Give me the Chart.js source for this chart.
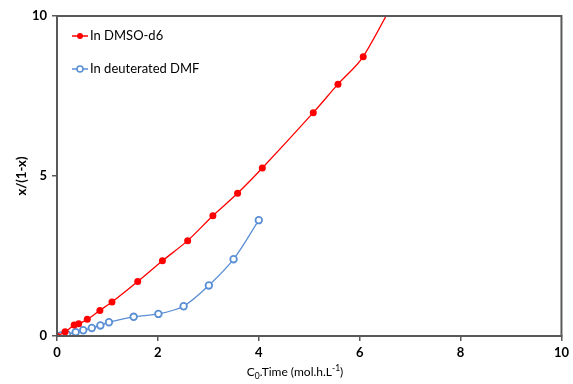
<!DOCTYPE html>
<html>
<head>
<meta charset="utf-8">
<script src="https://cdn.jsdelivr.net/npm/chart.js@4/dist/chart.umd.min.js"></script>
<style>
  html, body { margin: 0; padding: 0; background: #fff; }
  #wrap { width: 573px; height: 384px; }
</style>
</head>
<body>
<div id="wrap"><canvas id="kineticsChart" width="573" height="384"></canvas></div>
<script>
// x = C0.Time (mol.h.L-1), y = x/(1-x)
const dmsoX = [0, 0.16, 0.34, 0.43, 0.60, 0.85, 1.09, 1.60, 2.09, 2.59, 3.09, 3.58, 4.07, 5.08, 5.57, 6.07, 7.07];
const dmsoY = [0, 0.13, 0.34, 0.38, 0.52, 0.80, 1.06, 1.70, 2.35, 2.98, 3.76, 4.46, 5.25, 6.98, 7.87, 8.73, 11.65];
const dmfX = [0, 0.08, 0.20, 0.37, 0.52, 0.69, 0.86, 1.03, 1.52, 2.01, 2.51, 3.01, 3.50, 4.00];
const dmfY = [0, 0.02, 0.05, 0.12, 0.18, 0.25, 0.33, 0.43, 0.60, 0.69, 0.93, 1.58, 2.40, 3.62];
const seriesNames = ['In DMSO-d6', 'In deuterated DMF'];
const xTicks = [0, 2, 4, 6, 8, 10];
const yTicks = [0, 5, 10];
// x title pieces: [text, 'normal' | 'sub' | 'sup']
const xTitleParts = [['C', 'normal'], ['0', 'sub'], ['.Time (mol.h.L', 'normal'], ['-1', 'sup'], [')', 'normal']];

const red = '#FF0000';
const blue = '#5B8FD5';
const axisGray = '#595959';
const fontFamily = 'Lato, "Open Sans", sans-serif';

function toPoints(xs, ys) {
  return xs.map((x, i) => ({ x: x, y: ys[i] }));
}

// box round the plot area, legend inside it, x title with sub/superscript
const boxAndLegend = {
  id: 'boxAndLegend',
  afterDraw(chart) {
    const { ctx, chartArea: a } = chart;
    ctx.save();
    ctx.strokeStyle = axisGray;
    ctx.lineWidth = 2;
    ctx.strokeRect(a.left, a.top, a.right - a.left, a.bottom - a.top);

    ctx.font = '13px ' + fontFamily;
    ctx.textBaseline = 'middle';
    chart.data.datasets.forEach((ds, i) => {
      const y = 36 + i * 33;
      const x0 = 72, x1 = 88;
      ctx.strokeStyle = ds.borderColor;
      ctx.lineWidth = 1.5;
      ctx.beginPath();
      ctx.moveTo(x0, y);
      ctx.lineTo(x1, y);
      ctx.stroke();
      ctx.beginPath();
      ctx.arc((x0 + x1) / 2, y, 3, 0, Math.PI * 2);
      if (i === 0) {
        ctx.fillStyle = ds.borderColor;
        ctx.fill();
      } else {
        ctx.fillStyle = '#fff';
        ctx.fill();
        ctx.stroke();
      }
      ctx.fillStyle = '#000';
      ctx.fillText(ds.label, 90, y);
    });

    // x axis title
    const big = '12px ' + fontFamily;
    const small = '8.5px ' + fontFamily;
    let total = 0;
    xTitleParts.forEach(([t, kind]) => {
      ctx.font = kind === 'normal' ? big : small;
      total += ctx.measureText(t).width;
    });
    let x = 295 - total / 2;
    const base = 376;
    ctx.textBaseline = 'alphabetic';
    ctx.fillStyle = '#000';
    xTitleParts.forEach(([t, kind]) => {
      ctx.font = kind === 'normal' ? big : small;
      const dy = kind === 'sub' ? 3 : kind === 'sup' ? -5 : 0;
      ctx.fillText(t, x, base + dy);
      x += ctx.measureText(t).width;
    });
    ctx.restore();
  }
};

const ctx = document.getElementById('kineticsChart').getContext('2d');

new Chart(ctx, {
  type: 'scatter',
  data: {
    datasets: [
      {
        label: seriesNames[0],
        data: toPoints(dmsoX, dmsoY),
        showLine: true,
        borderColor: red,
        backgroundColor: red,
        borderWidth: 1.3,
        pointRadius: 3.5,
        pointBorderWidth: 0,
        tension: 0.3,
      },
      {
        label: seriesNames[1],
        data: toPoints(dmfX, dmfY),
        showLine: true,
        borderColor: blue,
        backgroundColor: '#fff',
        borderWidth: 1.3,
        pointRadius: 3.3,
        pointBorderWidth: 1.8,
        tension: 0.3,
      },
    ],
  },
  options: {
    responsive: false,
    animation: false,
    layout: { padding: { top: 16, right: 7, left: 0, bottom: 0 } },
    plugins: {
      legend: { display: false },
      tooltip: { enabled: false },
    },
    scales: {
      x: {
        type: 'linear',
        min: 0,
        max: 10,
        afterBuildTicks: (axis) => { axis.ticks = xTicks.map(v => ({ value: v })); },
        afterFit: (axis) => { axis.height = 48; },
        grid: { display: true, drawOnChartArea: false, tickLength: 5, color: axisGray, lineWidth: 1.5 },
        border: { color: axisGray, width: 2 },
        ticks: {
          color: '#000',
          padding: 4,
          maxRotation: 0,
          font: { family: fontFamily, size: 13, weight: 'bold' },
        },
        title: { display: false },
      },
      y: {
        type: 'linear',
        min: 0,
        max: 10,
        afterBuildTicks: (axis) => { axis.ticks = yTicks.map(v => ({ value: v })); },
        afterFit: (axis) => { axis.width = 57; },
        grid: { display: true, drawOnChartArea: false, tickLength: 5, color: axisGray, lineWidth: 1.5 },
        border: { color: axisGray, width: 2 },
        ticks: {
          color: '#000',
          padding: 5,
          font: { family: fontFamily, size: 13, weight: 'bold' },
        },
        title: {
          display: true,
          text: 'x/(1-x)',
          color: '#000',
          padding: { top: 14, bottom: 0 },
          font: { family: fontFamily, size: 13, weight: 'bold' },
        },
      },
    },
  },
  plugins: [boxAndLegend],
});
</script>
</body>
</html>
